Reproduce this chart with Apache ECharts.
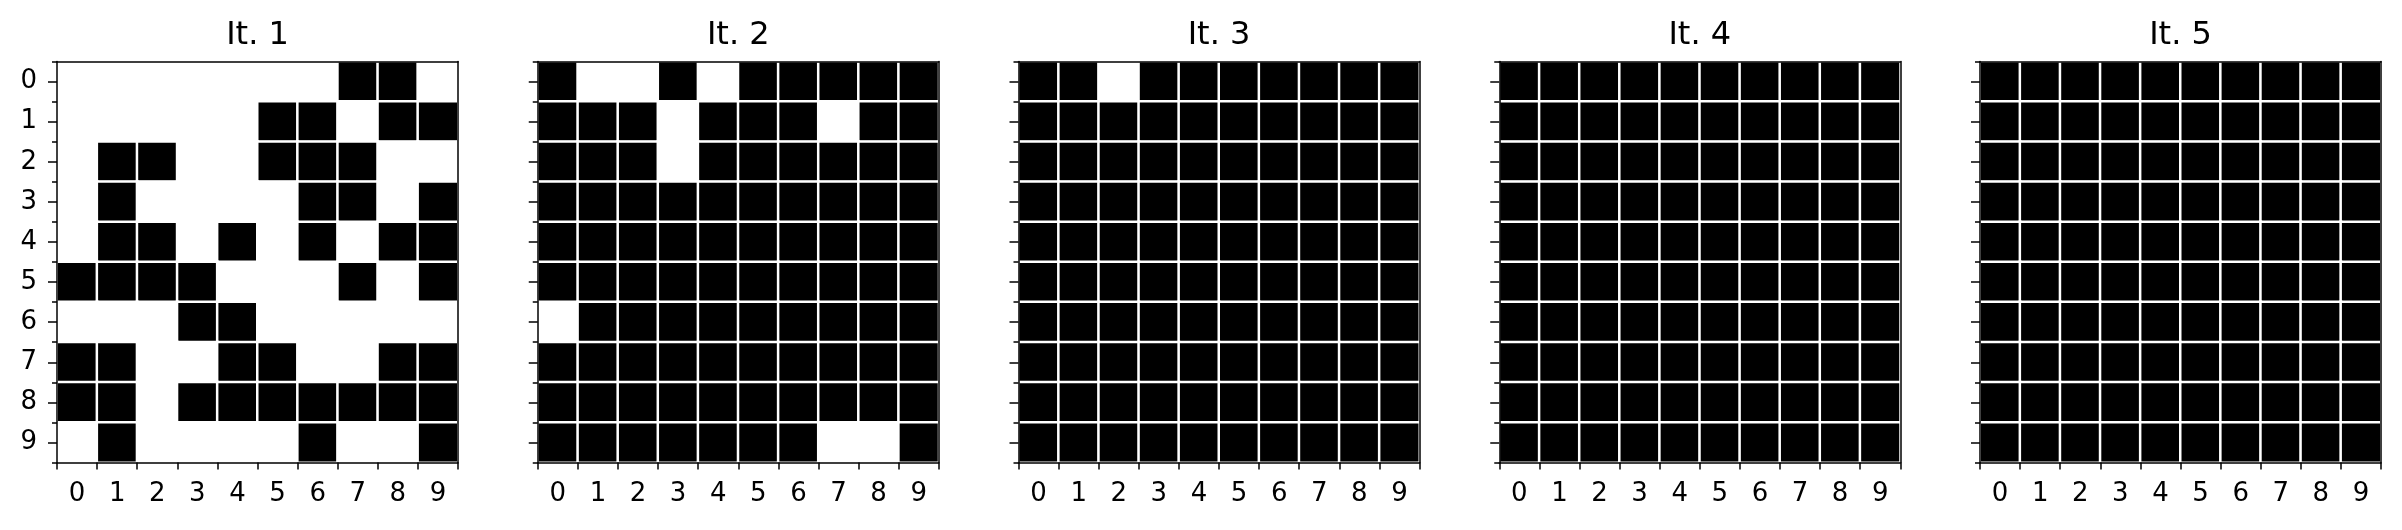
<!DOCTYPE html>
<html>
<head>
<meta charset="utf-8">
<script src="https://cdn.jsdelivr.net/npm/echarts@6/dist/echarts.min.js"></script>
<style>
html,body{margin:0;padding:0;background:#fff;}
#c{width:2402px;height:530px;}
</style>
</head>
<body>
<div id="c"></div>
<script>
const TICKS = ['0','1','2','3','4','5','6','7','8','9'];
const TITLES = ['It. 1','It. 2','It. 3','It. 4','It. 5'];

const IT1 = [
  [0,0,0,0,0,0,0,1,1,0],
  [0,0,0,0,0,1,1,0,1,1],
  [0,1,1,0,0,1,1,1,0,0],
  [0,1,0,0,0,0,1,1,0,1],
  [0,1,1,0,1,0,1,0,1,1],
  [1,1,1,1,0,0,0,1,0,1],
  [0,0,0,1,1,0,0,0,0,0],
  [1,1,0,0,1,1,0,0,1,1],
  [1,1,0,1,1,1,1,1,1,1],
  [0,1,0,0,0,0,1,0,0,1]
];
const IT2 = [
  [1,0,0,1,0,1,1,1,1,1],
  [1,1,1,0,1,1,1,0,1,1],
  [1,1,1,0,1,1,1,1,1,1],
  [1,1,1,1,1,1,1,1,1,1],
  [1,1,1,1,1,1,1,1,1,1],
  [1,1,1,1,1,1,1,1,1,1],
  [0,1,1,1,1,1,1,1,1,1],
  [1,1,1,1,1,1,1,1,1,1],
  [1,1,1,1,1,1,1,1,1,1],
  [1,1,1,1,1,1,1,0,0,1]
];
const IT3 = [
  [1,1,0,1,1,1,1,1,1,1],
  [1,1,1,1,1,1,1,1,1,1],
  [1,1,1,1,1,1,1,1,1,1],
  [1,1,1,1,1,1,1,1,1,1],
  [1,1,1,1,1,1,1,1,1,1],
  [1,1,1,1,1,1,1,1,1,1],
  [1,1,1,1,1,1,1,1,1,1],
  [1,1,1,1,1,1,1,1,1,1],
  [1,1,1,1,1,1,1,1,1,1],
  [1,1,1,1,1,1,1,1,1,1]
];
const IT4 = [
  [1,1,1,1,1,1,1,1,1,1],
  [1,1,1,1,1,1,1,1,1,1],
  [1,1,1,1,1,1,1,1,1,1],
  [1,1,1,1,1,1,1,1,1,1],
  [1,1,1,1,1,1,1,1,1,1],
  [1,1,1,1,1,1,1,1,1,1],
  [1,1,1,1,1,1,1,1,1,1],
  [1,1,1,1,1,1,1,1,1,1],
  [1,1,1,1,1,1,1,1,1,1],
  [1,1,1,1,1,1,1,1,1,1]
];
const IT5 = [
  [1,1,1,1,1,1,1,1,1,1],
  [1,1,1,1,1,1,1,1,1,1],
  [1,1,1,1,1,1,1,1,1,1],
  [1,1,1,1,1,1,1,1,1,1],
  [1,1,1,1,1,1,1,1,1,1],
  [1,1,1,1,1,1,1,1,1,1],
  [1,1,1,1,1,1,1,1,1,1],
  [1,1,1,1,1,1,1,1,1,1],
  [1,1,1,1,1,1,1,1,1,1],
  [1,1,1,1,1,1,1,1,1,1]
];
const MATRICES = [IT1, IT2, IT3, IT4, IT5];

const FONT = 'DejaVu Sans';
const LEFT0 = 57, STEP = 480.75, SIZE = 401, TOP = 61.5;
const BLACK = '#000000';

const grids = [], xAxes = [], yAxes = [], series = [], titles = [];
MATRICES.forEach((m, i) => {
  const left = LEFT0 + i * STEP;
  grids.push({left: left, top: TOP, width: SIZE, height: SIZE, containLabel: false});
  titles.push({
    text: TITLES[i], left: left + SIZE / 2, top: 20, textAlign: 'center', padding: 0,
    textStyle: {fontFamily: FONT, fontSize: 32, fontWeight: 'normal', color: BLACK}
  });
  const xi = xAxes.length;
  xAxes.push({
    gridIndex: i, type: 'category', data: TICKS, position: 'bottom', z: 5,
    axisLine: {show: true, lineStyle: {color: BLACK, width: 1.5}},
    axisTick: {show: true, length: 7, lineStyle: {color: BLACK, width: 1.5}},
    axisLabel: {show: true, fontFamily: FONT, fontSize: 26, color: BLACK, margin: 19},
    splitLine: {show: false}
  });
  xAxes.push({
    gridIndex: i, type: 'category', data: TICKS, position: 'top', z: 5,
    axisLine: {show: true, lineStyle: {color: BLACK, width: 1.5}},
    axisTick: {show: false}, axisLabel: {show: false}, splitLine: {show: false}
  });
  const yi = yAxes.length;
  yAxes.push({
    gridIndex: i, type: 'category', data: TICKS, inverse: true, position: 'left', z: 5,
    axisLine: {show: true, lineStyle: {color: BLACK, width: 1.5}},
    axisTick: {show: true, alignWithLabel: true, length: 9, lineStyle: {color: BLACK, width: 1.5}},
    axisLabel: {show: i === 0, fontFamily: FONT, fontSize: 26, color: BLACK, margin: 20},
    splitLine: {show: false}
  });
  yAxes.push({
    gridIndex: i, type: 'category', data: TICKS, inverse: true, position: 'left', z: 5,
    axisLine: {show: false},
    axisTick: {show: true, length: 5, lineStyle: {color: BLACK, width: 1.5}},
    axisLabel: {show: false}, splitLine: {show: false}
  });
  yAxes.push({
    gridIndex: i, type: 'category', data: TICKS, inverse: true, position: 'right', z: 5,
    axisLine: {show: true, lineStyle: {color: BLACK, width: 1.5}},
    axisTick: {show: false}, axisLabel: {show: false}, splitLine: {show: false}
  });
  const data = [];
  m.forEach((row, r) => row.forEach((v, c) => data.push([c, r, v])));
  series.push({
    type: 'heatmap', xAxisIndex: xi, yAxisIndex: yi, data: data,
    itemStyle: {borderColor: '#ffffff', borderWidth: 2.5},
    emphasis: {disabled: true}, silent: true, z: 2
  });
});

const chart = echarts.init(document.getElementById('c'), null, {renderer: 'canvas'});
chart.setOption({
  backgroundColor: '#ffffff',
  animation: false,
  title: titles,
  grid: grids,
  xAxis: xAxes,
  yAxis: yAxes,
  visualMap: {
    type: 'piecewise', show: false, dimension: 2,
    pieces: [{value: 0, color: '#ffffff'}, {value: 1, color: '#000000'}]
  },
  series: series
});
</script>
</body>
</html>
